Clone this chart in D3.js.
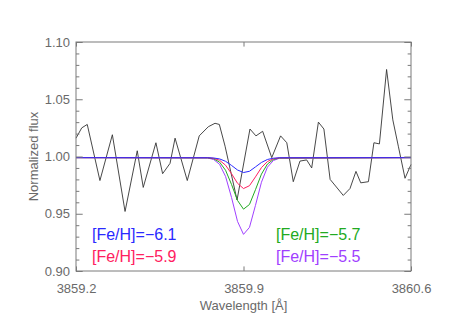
<!DOCTYPE html>
<html>
<head>
<meta charset="utf-8">
<script src="https://cdn.jsdelivr.net/npm/d3@7"></script>
<style>
body { margin: 0; background: #fff; }
svg { display: block; font-family: "Liberation Sans", Arial, sans-serif; }
</style>
</head>
<body>
<svg></svg>
<script>
// observed spectrum
const obsWave = [3859.200, 3859.224, 3859.247, 3859.300, 3859.352, 3859.405, 3859.456, 3859.481,
    3859.534, 3859.562, 3859.593, 3859.614, 3859.665, 3859.715, 3859.753, 3859.781, 3859.799,
    3859.823, 3859.873, 3859.927, 3859.952, 3859.980, 3860.018, 3860.055, 3860.081, 3860.108,
    3860.136, 3860.164, 3860.185, 3860.213, 3860.236, 3860.262, 3860.317, 3860.345, 3860.370,
    3860.390, 3860.422, 3860.445, 3860.468, 3860.498, 3860.524, 3860.547, 3860.575, 3860.600];
const obsFlux = [1.016, 1.025, 1.028, 0.979, 1.019, 0.952, 1.005, 0.973,
    1.012, 0.985, 0.994, 1.016, 0.979, 1.018, 1.026, 1.029, 1.028,
    1.009, 0.962, 1.024, 1.018, 1.022, 0.999, 1.018, 1.012, 0.978,
    0.996, 0.997, 0.990, 1.030, 1.024, 0.980, 0.966, 0.972, 0.987,
    0.977, 0.978, 1.012, 1.011, 1.076, 1.032, 1.009, 0.981, 0.993];

// synthetic spectra
const modelWave = [3859.200, 3859.750, 3859.775, 3859.800, 3859.825, 3859.850, 3859.875, 3859.900,
    3859.925, 3859.950, 3859.975, 3860.000, 3860.025, 3860.050, 3860.600];
const fluxM61 = [0.999, 0.9989, 0.9987, 0.9979, 0.9958, 0.9922, 0.9882, 0.9860,
    0.9871, 0.9909, 0.9948, 0.9974, 0.9985, 0.9989, 0.999];
const fluxM59 = [0.999, 0.9989, 0.9984, 0.9967, 0.9924, 0.9850, 0.9766, 0.9720,
    0.9745, 0.9822, 0.9903, 0.9956, 0.9980, 0.9988, 0.999];
const fluxM57 = [0.999, 0.9988, 0.9980, 0.9951, 0.9880, 0.9756, 0.9616, 0.9540,
    0.9581, 0.9710, 0.9846, 0.9934, 0.9974, 0.9986, 0.999];
const fluxM55 = [0.999, 0.9987, 0.9974, 0.9932, 0.9826, 0.9642, 0.9433, 0.9320,
    0.9381, 0.9573, 0.9775, 0.9907, 0.9965, 0.9985, 0.999];

const modelLabels = ["[Fe/H]=\u22126.1", "[Fe/H]=\u22125.9", "[Fe/H]=\u22125.7", "[Fe/H]=\u22125.5"];

const xTicks = [3859.2, 3859.9, 3860.6];
const xTickLabels = ["3859.2", "3859.9", "3860.6"];
const yTicks = [0.90, 0.95, 1.00, 1.05, 1.10];
const yTickLabels = ["0.90", "0.95", "1.00", "1.05", "1.10"];
const yMinor = [0.91, 0.92, 0.93, 0.94, 0.96, 0.97, 0.98, 0.99,
    1.01, 1.02, 1.03, 1.04, 1.06, 1.07, 1.08, 1.09];

const margins = {t: 42, r: 52, b: 56, l: 76};
const size = {w: 463, h: 327};
const axisColor = '#7a7a7a';
const textColor = '#6a6a6a';
const colors = ['#2a2aff', '#ff2060', '#22aa22', '#a040ff'];

const svg = d3.select('svg')
    .attr('width', size.w)
    .attr('height', size.h);

const x = d3.scaleLinear()
    .domain([3859.2, 3860.6])
    .range([margins.l, size.w - margins.r]);
const y = d3.scaleLinear()
    .domain([0.90, 1.10])
    .range([size.h - margins.b, margins.t]);

const pw = size.w - margins.l - margins.r;
const ph = size.h - margins.t - margins.b;
const yLen = 0.02 * pw, xLen = 0.02 * ph;

// data lines
const plotG = svg.append('g');
const line = d3.line().x(d => x(d[0])).y(d => y(d[1]));

plotG.append('path')
    .datum(d3.zip(obsWave, obsFlux))
    .attr('d', line)
    .attr('fill', 'none')
    .attr('stroke', '#333')
    .attr('stroke-width', 0.9);

const models = [fluxM61, fluxM59, fluxM57, fluxM55];
[3, 2, 1, 0].forEach(i => {
    plotG.append('path')
        .datum(d3.zip(modelWave, models[i]))
        .attr('d', line)
        .attr('fill', 'none')
        .attr('stroke', colors[i])
        .attr('stroke-width', 1);
});

// axes
function styleAxis(g) {
    g.select('.domain').remove();
    g.selectAll('line').attr('stroke', axisColor);
    g.selectAll('text')
        .attr('fill', textColor)
        .style('font-size', '13px')
        .style('font-family', '"Liberation Sans", Arial, sans-serif');
}

svg.append('g')
    .attr('transform', `translate(${margins.l},0)`)
    .call(d3.axisLeft(y).tickValues(yTicks)
        .tickFormat((d, i) => yTickLabels[i])
        .tickSize(-yLen).tickPadding(6))
    .call(styleAxis);
svg.append('g')
    .attr('transform', `translate(${margins.l},0)`)
    .call(d3.axisLeft(y).tickValues(yMinor).tickFormat('').tickSize(-yLen / 2))
    .call(styleAxis);
svg.append('g')
    .attr('transform', `translate(${size.w - margins.r},0)`)
    .call(d3.axisRight(y).tickValues(yTicks).tickFormat('').tickSize(-yLen))
    .call(styleAxis);
svg.append('g')
    .attr('transform', `translate(${size.w - margins.r},0)`)
    .call(d3.axisRight(y).tickValues(yMinor).tickFormat('').tickSize(-yLen / 2))
    .call(styleAxis);

svg.append('g')
    .attr('transform', `translate(0,${size.h - margins.b})`)
    .call(d3.axisBottom(x).tickValues(xTicks)
        .tickFormat((d, i) => xTickLabels[i])
        .tickSize(-xLen).tickPadding(13))
    .call(styleAxis);
svg.append('g')
    .attr('transform', `translate(0,${margins.t})`)
    .call(d3.axisTop(x).tickValues(xTicks).tickFormat('').tickSize(-xLen))
    .call(styleAxis);

// frame
svg.append('rect')
    .attr('x', margins.l).attr('y', margins.t)
    .attr('width', pw).attr('height', ph)
    .attr('fill', 'none')
    .attr('stroke', axisColor)
    .attr('stroke-width', 1);

// titles
svg.append('text')
    .attr('x', x(3859.9))
    .attr('y', size.h - margins.b + 39)
    .attr('text-anchor', 'middle')
    .attr('fill', textColor)
    .style('font-size', '13px')
    .text('Wavelength [\u00c5]');

svg.append('text')
    .attr('transform', `translate(38,${y(1.0)}) rotate(-90)`)
    .attr('text-anchor', 'middle')
    .attr('fill', textColor)
    .style('font-size', '13px')
    .text('Normalized flux');

// model labels
const labelPos = [[92, 240], [92, 262], [276, 240], [276, 262]];
modelLabels.forEach((t, i) => {
    svg.append('text')
        .attr('x', labelPos[i][0])
        .attr('y', labelPos[i][1])
        .attr('fill', colors[i])
        .style('font-size', '16px')
        .text(t);
});
</script>
</body>
</html>
